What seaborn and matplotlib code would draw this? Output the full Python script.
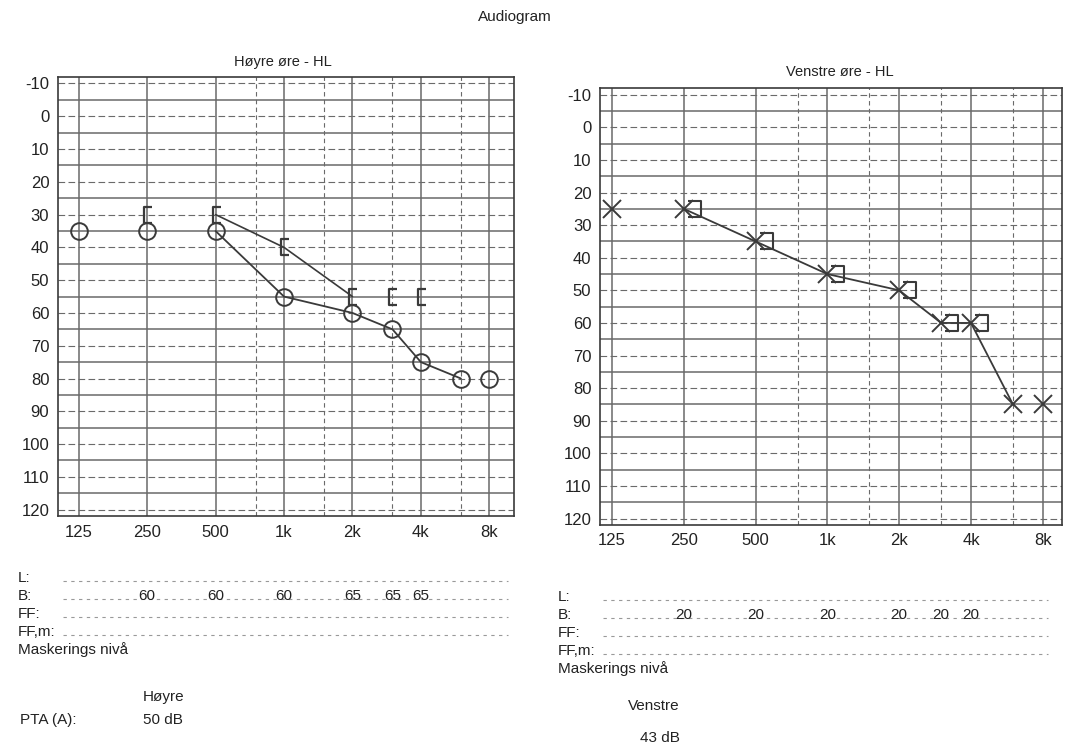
import numpy as np
import pandas as pd
import seaborn as sns
import matplotlib.pyplot as plt
from matplotlib.path import Path
from matplotlib.transforms import blended_transform_factory

# audiogram values
freqs = [125, 250, 500, 1000, 2000, 3000, 4000, 6000, 8000]
right_air = [35, 35, 35, 55, 60, 65, 75, 80, 80]
left_air = [25, 25, 35, 45, 50, 60, 60, 85, 85]

bone_freqs = [250, 500, 1000, 2000, 3000, 4000]
right_bone = [30, 30, 40, 55, 55, 55]
left_bone = [25, 35, 45, 50, 60, 60]

mask_freqs = [250, 500, 1000, 2000, 3000, 4000]
right_mask = [60, 60, 60, 65, 65, 65]
left_mask = [20, 20, 20, 20, 20, 20]

tick_freqs = [125, 250, 500, 1000, 2000, 4000, 8000]
tick_labels = ['125', '250', '500', '1k', '2k', '4k', '8k']
db_ticks = list(range(-10, 130, 10))

sns.set_theme(style='white')
plt.rcParams['font.family'] = ['Liberation Sans', 'DejaVu Sans']
plt.rcParams['axes.unicode_minus'] = False

ink = '#3a3a3a'
grid = '#6a6a6a'

# bracket markers for bone conduction
br_left = Path([(0.35, 0.55), (-0.25, 0.55), (-0.25, -0.55), (0.35, -0.55)],
               [Path.MOVETO, Path.LINETO, Path.LINETO, Path.LINETO])
br_right = Path([(0.25, 0.5), (1.0, 0.5), (1.0, -0.5), (0.25, -0.5)],
                [Path.MOVETO, Path.LINETO, Path.LINETO, Path.LINETO])

fig = plt.figure(figsize=(10.67, 7.47), dpi=100)
axR = fig.add_axes([0.054, 0.309, 0.428, 0.588])
axL = fig.add_axes([0.562, 0.297, 0.433, 0.585])


def setup(ax, xlim):
    ax.set_xscale('log')
    ax.set_xlim(*xlim)
    ax.set_ylim(122, -12)
    for y in range(-10, 125, 5):
        if y % 10 == 0:
            ax.axhline(y, color=grid, lw=0.8, ls=(0, (6, 3)), zorder=0)
        else:
            ax.axhline(y, color=grid, lw=1.1, zorder=0)
    for f in [125, 250, 500, 1000, 2000, 4000, 8000]:
        ax.axvline(f, color=grid, lw=1.1, zorder=0)
    for f in [750, 1500, 3000, 6000]:
        ax.axvline(f, color=grid, lw=0.8, ls=(0, (4, 3)), zorder=0)
    ax.set_xticks(tick_freqs)
    ax.set_xticklabels(tick_labels)
    ax.minorticks_off()
    ax.set_yticks(db_ticks)
    ax.tick_params(length=0, labelsize=12, colors='#222222', pad=6)
    for s in ax.spines.values():
        s.set_color(ink)
        s.set_linewidth(1.2)


setup(axR, (101, 10300))
setup(axL, (111, 9600))

# right ear: air (O) and bone ([)
df_r = pd.DataFrame({'f': freqs, 'db': right_air})
sns.lineplot(data=df_r.iloc[2:8], x='f', y='db', ax=axR, color=ink, lw=1.3,
             estimator=None, sort=False)
sns.lineplot(data=df_r, x='f', y='db', ax=axR, color=ink, lw=0, marker='o',
             markersize=12, mfc='none', mec=ink, mew=1.4, estimator=None)
df_rb = pd.DataFrame({'f': bone_freqs, 'db': right_bone})
sns.lineplot(data=df_rb.iloc[1:4], x='f', y='db', ax=axR, color=ink, lw=1.2,
             estimator=None, sort=False)
sns.lineplot(data=df_rb, x='f', y='db', ax=axR, color=ink, lw=0, marker=br_left,
             markersize=11, mfc='none', mec=ink, mew=1.6, estimator=None)

# left ear: air (X) and bone (])
df_l = pd.DataFrame({'f': freqs, 'db': left_air})
sns.lineplot(data=df_l.iloc[1:8], x='f', y='db', ax=axL, color=ink, lw=1.3,
             estimator=None, sort=False)
sns.lineplot(data=df_l, x='f', y='db', ax=axL, color=ink, lw=0, marker='x',
             markersize=13, mec=ink, mew=1.4, estimator=None)
df_lb = pd.DataFrame({'f': bone_freqs, 'db': left_bone})
sns.lineplot(data=df_lb, x='f', y='db', ax=axL, color=ink, lw=0, marker=br_right,
             markersize=24, mfc='none', mec=ink, mew=1.5, estimator=None)

for ax in (axR, axL):
    if ax.get_legend():
        ax.get_legend().remove()
    ax.set_xlabel('')
    ax.set_ylabel('')

fig.text(515 / 1067, 1 - 17 / 747, 'Audiogram', ha='center', va='center', fontsize=11, color='#222')
fig.text(283 / 1067, 1 - 62 / 747, 'Høyre øre - HL', ha='center', va='center', fontsize=10.5, color='#222')
fig.text(840 / 1067, 1 - 72 / 747, 'Venstre øre - HL', ha='center', va='center', fontsize=10.5, color='#222')

# masking / text block under each chart
rows = ['L:', 'B:', 'FF:', 'FF,m:']


def block(x0, y0, ax, mask, side, x_side, y_side):
    for i, r in enumerate(rows):
        y = 1 - (y0 + 18 * i) / 747
        fig.text(x0 / 1067, y, r, ha='left', va='center', fontsize=11, color='#222')
        fig.add_artist(plt.Line2D([(x0 + 45) / 1067, (x0 + 490) / 1067], [y - 0.004, y - 0.004],
                                  color='#999999', lw=0.8, ls=(0, (3, 4))))
    fig.text(x0 / 1067, 1 - (y0 + 72) / 747, 'Maskerings nivå', ha='left', va='center',
             fontsize=11, color='#222')
    trans = blended_transform_factory(ax.transData, fig.transFigure)
    yb = 1 - (y0 + 18) / 747
    for f, m in zip(mask_freqs, mask):
        fig.text(f, yb, str(m), transform=trans, ha='center', va='center',
                 fontsize=11, color='#222')
    fig.text(x_side / 1067, 1 - y_side / 747, side, ha='left', va='center', fontsize=11, color='#222')


block(18, 578, axR, right_mask, 'Høyre', 143, 697)
block(558, 597, axL, left_mask, 'Venstre', 628, 706)

pta_r = round(np.mean(right_air[2:5]))
pta_l = round(np.mean(left_air[2:5]))
fig.text(20 / 1067, 1 - 720 / 747, 'PTA (A):', ha='left', va='center', fontsize=11, color='#222')
fig.text(143 / 1067, 1 - 720 / 747, f'{pta_r} dB', ha='left', va='center', fontsize=11, color='#222')
fig.text(640 / 1067, 1 - 738 / 747, f'{pta_l} dB', ha='left', va='center', fontsize=11, color='#222')

fig.savefig('out.png', dpi=100, facecolor='white')
